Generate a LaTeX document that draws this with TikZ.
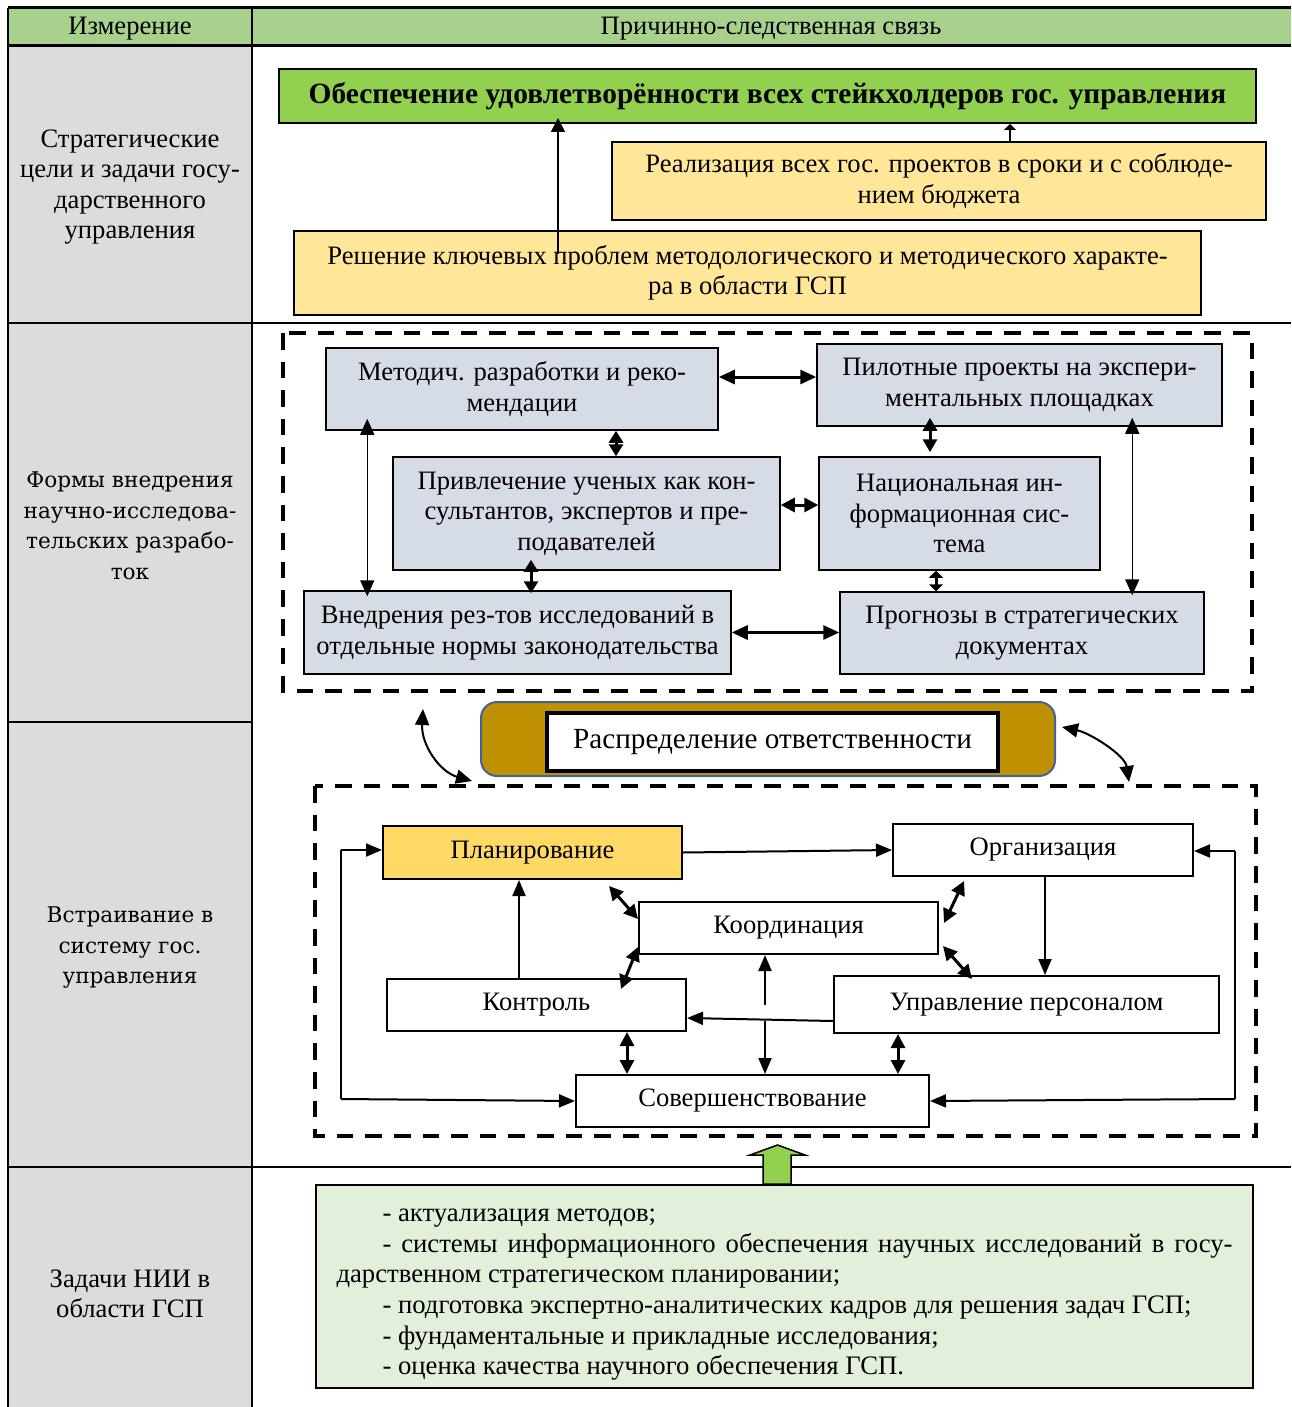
\documentclass[tikz,border=0pt]{standalone}
\usepackage{fontspec}
\setmainfont{Liberation Serif}
\newfontfamily\wideserif{DejaVu Serif}
\usetikzlibrary{arrows.meta, calc}

\definecolor{hdrGreen}{HTML}{A9D18E}
\definecolor{cellGray}{HTML}{DCDCDC}
\definecolor{goalGreen}{HTML}{92D050}
\definecolor{paleYellow}{HTML}{FFE699}
\definecolor{blueGray}{HTML}{D6DCE5}
\definecolor{darkGold}{HTML}{BF9000}
\definecolor{planYellow}{HTML}{FFD966}
\definecolor{paleGreen}{HTML}{E2EFDA}
\definecolor{rimBlue}{HTML}{41639C}

\begin{document}
\begin{tikzpicture}[x=0.5pt, y=-0.5pt, font=\fontsize{13.3}{15.25}\selectfont,
  box/.style={draw=black, line width=1pt, inner sep=0pt, align=center},
  formbox/.style={box, line width=0.75pt, fill=blueGray},
  arr/.style={line width=1pt, -{Triangle[length=8pt,width=6.5pt]}},
  darr/.style={line width=1.5pt, {Triangle[length=#1,width=7pt]}-{Triangle[length=#1,width=7pt]}},
  darr/.default=8pt,
  tarr/.style={line width=0.75pt, {Triangle[length=8pt,width=7pt]}-{Triangle[length=8pt,width=7pt]}},
  dashframe/.style={draw=black, line width=1.6pt, dash pattern=on 8.3pt off 6pt}]
\useasboundingbox (0,0) rectangle (1291,1407);

\fill[hdrGreen] (8,8) rectangle (1291,46);
\fill[cellGray] (8,46) rectangle (252,1407);
\draw[line width=1.5pt] (8,8) -- (1291,8);
\draw[line width=1.5pt] (8,46) -- (1291,46);
\draw[line width=1pt] (8,323) -- (1291,323);
\draw[line width=0.75pt] (8,722) -- (252,722);
\draw[line width=1pt] (8,1167) -- (1291,1167);
\draw[line width=0.75pt] (8,8) -- (8,1407);
\draw[line width=0.75pt] (252,8) -- (252,1407);

\node (hdrDim) at (130,29) {Измерение};
\node (hdrCause) at (771,29) {Причинно-следственная связь};
\node[align=center] (dimStrat) at (130,187) {Стратегические\\цели и задачи госу-\\дарственного\\управления};
\node[align=center, font=\wideserif\fontsize{10.8}{15.25}\selectfont] (dimForm) at (130,526) {Формы внедрения\\научно-исследова-\\тельских разрабо-\\ток};
\node[align=center, font=\wideserif\fontsize{10.8}{15.25}\selectfont] (dimEmbed) at (130,948) {Встраивание в\\систему гос.\\управления};
\node[align=center] (dimTask) at (130,1294) {Задачи НИИ в\\области ГСП};

\node[box, fill=goalGreen, minimum width=488.5pt, minimum height=27pt, font=\fontsize{14.7}{15.25}\selectfont\bfseries] (goal) at (767.5,96) {Обеспечение удовлетворённости всех стейкхолдеров гос. управления};
\node[box, fill=paleYellow, minimum width=327pt, minimum height=39pt] (real) at (939,181) {Реализация всех гос. проектов в сроки и с соблюде-\\нием бюджета};
\node[box, fill=paleYellow, minimum width=453.5pt, minimum height=42pt] (resh) at (747.5,273) {Решение ключевых проблем методологического и методического характе-\\ра в области ГСП};
\draw[line width=0.75pt, -{Triangle[length=7pt,width=7pt]}, shorten >=-3pt] ([xshift=132.5pt,yshift=-12pt]resh.north west) coordinate (rg) -- (rg |- goal.south);
\draw[line width=0.75pt, -{Triangle[length=3pt,width=6pt]}] ([xshift=199.5pt]real.north west) coordinate (gg) -- (gg |- goal.south);

\draw[dashframe] (283,333) rectangle (1252,691);
\node[formbox, minimum width=196pt, minimum height=41pt] (metod) at (522,389) {Методич. разработки и реко-\\мендации};
\node[formbox, minimum width=202.5pt, minimum height=41pt] (pilot) at (1019.5,385) {Пилотные проекты на экспери-\\ментальных площадках};
\node[formbox, minimum width=193.5pt, minimum height=56.5pt] (privl) at (586.5,513.5) {Привлечение ученых как кон-\\сультантов, экспертов и пре-\\подавателей};
\node[formbox, minimum width=140.5pt, minimum height=56.5pt] (nats) at (959.5,513.5) {Национальная ин-\\формационная сис-\\тема};
\node[formbox, minimum width=213.5pt, minimum height=41.5pt] (vnedr) at (517.5,632.5) {Внедрения рез-тов исследований в\\отдельные нормы законодательства};
\node[formbox, minimum width=182pt, minimum height=41pt] (progn) at (1022,633) {Прогнозы в стратегических\\документах};
\draw[darr] ([yshift=6pt]metod.east) coordinate (mp) -- (mp -| pilot.west);
\draw[darr=6pt] ([xshift=47pt]metod.south) coordinate (mk) -- (mk |- privl.north);
\draw[darr=6.5pt, shorten <=-4.5pt, shorten >=2pt] ([xshift=-44.75pt]pilot.south) coordinate (pn) -- (pn |- nats.north);
\draw[darr=7pt] ([yshift=4.25pt]privl.east) coordinate (kn) -- (kn -| nats.west);
\draw[darr=6pt, shorten <=-5.5pt, shorten >=-1.5pt] ([xshift=-27.75pt]privl.south) coordinate (kv) -- (kv |- vnedr.north);
\draw[darr=3.5pt] ([xshift=-11.75pt]nats.south) coordinate (nf) -- (nf |- progn.north);
\draw[darr] (vnedr.east) -- (vnedr.east -| progn.west);
\draw[tarr, shorten <=-6pt, shorten >=-3pt] ([xshift=21pt]metod.south west) coordinate (mv) -- (mv |- vnedr.north);
\draw[tarr, shorten <=-4.5pt, shorten >=-2pt] ([xshift=158pt]pilot.south west) coordinate (pf) -- (pf |- progn.north);

\node[box, draw=rimBlue, fill=darkGold, rounded corners=8pt, minimum width=287pt, minimum height=37pt] (rasp) at (768,739) {};
\node[box, fill=white, line width=1.6pt, minimum width=225.5pt, minimum height=29pt, font=\fontsize{14.6}{15.25}\selectfont] (raspText) at (772.5,742) {Распределение ответственности};
\coordinate (cl1) at (423,709); \coordinate (cl2) at (472,781);
\coordinate (cr1) at (1062,727); \coordinate (cr2) at (1129,782);
\draw[line width=1pt, {Triangle[length=8pt,width=7pt]}-{Triangle[length=8pt,width=7pt]}] (cl1) .. controls (421,745) and (440,772) .. (cl2);
\draw[line width=1pt, {Triangle[length=8pt,width=7pt]}-{Triangle[length=8pt,width=7pt]}] (cr1) .. controls (1090,733) and (1125,755) .. (cr2);

\draw[dashframe] (315,786) rectangle (1256,1136);
\node[box, fill=planYellow, minimum width=149.5pt, minimum height=26.5pt] (plan) at (532.5,852.5) {Планирование};
\node[box, fill=white, minimum width=150pt, minimum height=26pt] (org) at (1043,850) {Организация};
\node[box, fill=white, minimum width=149.5pt, minimum height=26pt] (koord) at (788.5,928) {Координация};
\node[box, fill=white, minimum width=149.5pt, minimum height=26pt] (kontr) at (536.5,1005) {Контроль};
\node[box, fill=white, minimum width=192.5pt, minimum height=28.5pt] (upr) at (1026.5,1004.5) {Управление персоналом};
\node[box, fill=white, minimum width=176.5pt, minimum height=26pt] (sov) at (752.5,1101) {Совершенствование};
\coordinate (lTop) at (341,850); \coordinate (lBot) at (341,1099);
\coordinate (rTop) at (1235,851); \coordinate (rBot) at (1235,1099);
\coordinate (kUp) at (765,1005); \coordinate (kDn) at (765,1021);
\draw[arr] (plan.east) -- (org.west);
\draw[line width=0.75pt] (lTop) -- (lBot);
\draw[arr] (lTop) -- (lTop -| plan.west);
\draw[arr] (lBot) -- (sov.west);
\draw[line width=0.75pt] (rTop) -- (rBot);
\draw[arr] (rTop) -- (rTop -| org.east);
\draw[arr] (rBot) -- (sov.east);
\draw[arr] ([xshift=1pt]org.south) coordinate (ou) -- (ou |- upr.north);
\draw[arr] ([xshift=-8.75pt]kontr.north) coordinate (kp) -- (kp |- plan.south);
\draw[arr] ([yshift=-8.25pt]upr.west) -- ([yshift=-6.5pt]kontr.east);
\draw[darr=7pt] ([xshift=-37pt,yshift=-3pt]plan.south east) -- ([yshift=4.5pt]koord.west);
\draw[darr=7pt] ([xshift=36pt,yshift=-2pt]org.south west) -- ([xshift=2.5pt,yshift=2.5pt]koord.east);
\draw[darr=7pt] ([yshift=-9.5pt]koord.west) -- ([xshift=-33pt,yshift=-5.5pt]kontr.north east);
\draw[darr=7pt] ([xshift=2pt,yshift=-9pt]koord.east) -- ([xshift=69.5pt,yshift=-2pt]upr.north west);
\draw[arr] (kUp) -- (kUp |- koord.south);
\draw[arr] (kDn) -- (kDn |- sov.north);
\draw[darr=7pt] ([xshift=45.25pt]kontr.south) coordinate (ks) -- (ks |- sov.north);
\draw[darr=7pt] ([xshift=-64.25pt]upr.south) coordinate (us) -- (us |- sov.north);

\node[box, fill=paleGreen, minimum width=468.5pt, minimum height=101.5pt, text width=448pt, align=justify, font=\fontsize{13.35}{15.3}\selectfont] (zad) at (784.5,1286.5) {\rule{0pt}{14.5pt}\hspace*{23pt}- актуализация методов;\par
\makebox[\linewidth][s]{\hspace*{23pt}- системы информационного обеспечения научных исследований в госу-}\par
дарственном стратегическом планировании;\par
\hspace*{23pt}- подготовка экспертно-аналитических кадров для решения задач ГСП;\par
\hspace*{23pt}- фундаментальные и прикладные исследования;\par
\hspace*{23pt}- оценка качества научного обеспечения ГСП.};
\draw[line width=0.75pt, fill=goalGreen] ([xshift=-10.75pt]zad.north) -- ++(0,-29) -- ++(-13,0) -- ++(27.5,-10) -- ++(27.5,10) -- ++(-14,0) -- ++(0,29) -- cycle;
\end{tikzpicture}
\end{document}
